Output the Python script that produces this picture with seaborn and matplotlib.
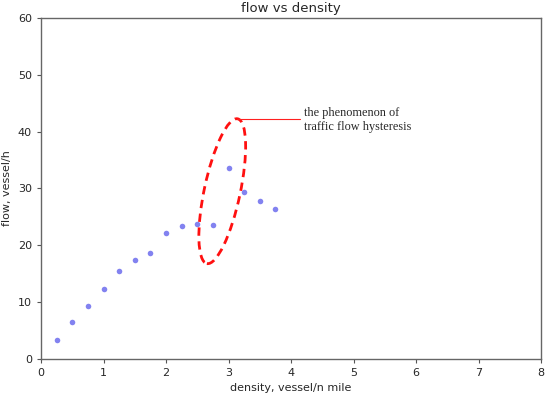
import matplotlib
matplotlib.use("Agg")
import matplotlib.pyplot as plt
from matplotlib.patches import Ellipse
from matplotlib.transforms import IdentityTransform
import seaborn as sns
import pandas as pd

density = [0.25, 0.5, 0.75, 1.0, 1.25, 1.5, 1.75, 2.0, 2.25, 2.5, 2.75, 3.0, 3.25, 3.5, 3.75]
flow = [3.3, 6.5, 9.3, 12.2, 15.5, 17.3, 18.6, 22.1, 23.4, 23.8, 23.5, 33.6, 29.4, 27.7, 26.4]
x_ticks = [0, 1, 2, 3, 4, 5, 6, 7, 8]
y_ticks = [0, 10, 20, 30, 40, 50, 60]
note = "the phenomenon of\ntraffic flow hysteresis"

sns.set_style("ticks")
plt.rcParams['font.family'] = ['DejaVu Sans']

fig = plt.figure(figsize=(5.5, 3.97), dpi=100)
ax = fig.add_axes([41/550, 1 - 358.7/397, 500/550, (358.7 - 18)/397])

df = pd.DataFrame({"density": density, "flow": flow})
sns.scatterplot(data=df, x="density", y="flow", ax=ax, color="#8282f0",
                s=16, linewidth=0, zorder=3)

ax.set_xlim(0, 8)
ax.set_ylim(0, 60)
ax.set_xticks(x_ticks)
ax.set_yticks(y_ticks)
ax.tick_params(labelsize=8, length=3, color="#555555", width=0.8)
for sp in ax.spines.values():
    sp.set_visible(True)
    sp.set_color("#666666")
    sp.set_linewidth(1.0)
ax.set_title("flow vs density", fontsize=9.5, pad=4)
ax.set_xlabel("density, vessel/n mile", fontsize=8)
ax.set_ylabel("flow, vessel/h", fontsize=8)

# hysteresis ellipse drawn in display space around the loop region
cx, cy = ax.transData.transform((2.9, 29.5))
ell = Ellipse((cx, cy), width=36, height=148, angle=-12, fill=False,
              edgecolor="#ff1010", linestyle=(0, (3, 2)), linewidth=2,
              transform=IdentityTransform(), zorder=4)
ax.add_patch(ell)

# leader line and note
x0, y0 = 3.13, 42.2
ax.plot([x0, 4.14], [y0, y0], color="#ff2020", linewidth=0.8, zorder=4)
ax.text(4.2, 44.3, note, fontsize=8.8, family="Liberation Serif",
        va="top", ha="left", linespacing=1.2)

fig.savefig("out.png", dpi=100)
